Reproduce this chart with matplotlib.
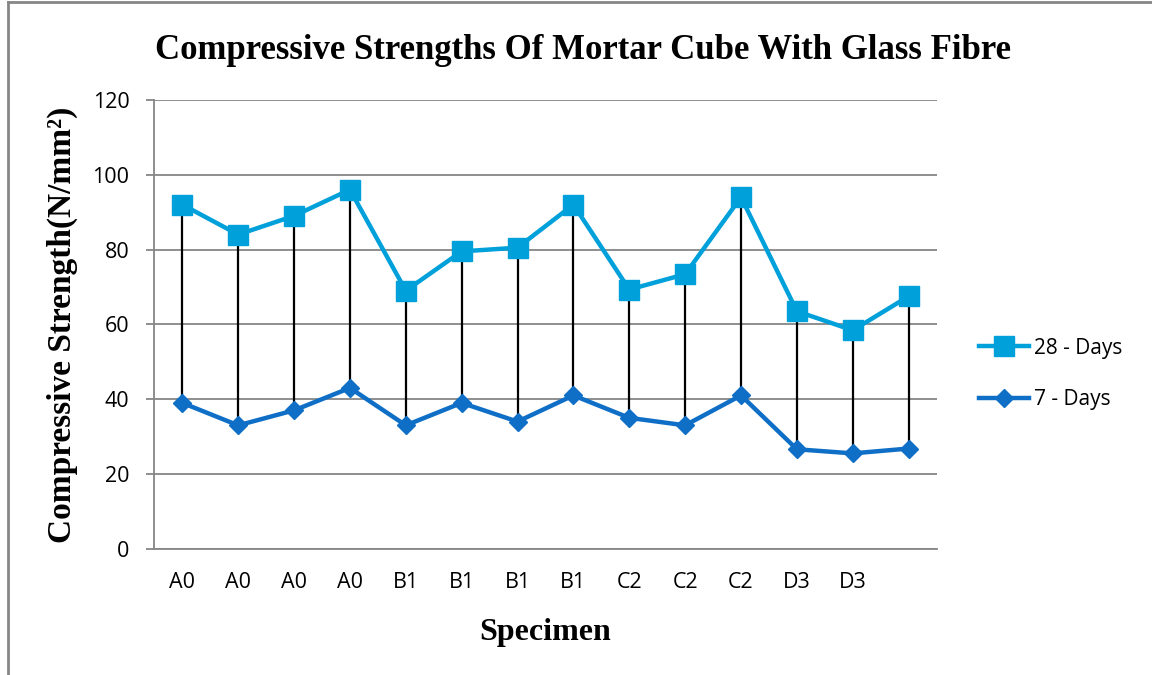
import matplotlib
matplotlib.use('Agg')
import matplotlib.pyplot as plt
from matplotlib.lines import Line2D

# data
specimens = ['A0', 'A0', 'A0', 'A0', 'B1', 'B1', 'B1', 'B1',
             'C2', 'C2', 'C2', 'D3', 'D3', '']
days_28 = [92, 84, 89, 96, 69, 79.5, 80.5, 92, 69.3, 73.4, 94, 63.5, 58.4, 67.5]
days_7 = [39, 33, 37, 43, 33, 39, 34, 41, 35, 33, 41, 26.6, 25.5, 26.8]
y_ticks = [0, 20, 40, 60, 80, 100, 120]

grid_col = '#868686'
c28 = '#00A0DA'
c7 = '#0F6FC6'
tick_font = ['Open Sans', 'DejaVu Sans']
serif_font = ['Liberation Serif', 'DejaVu Serif']

fig = plt.figure(figsize=(11.52, 6.75), dpi=100)
ax = fig.add_axes([0.134, 0.187, 0.679, 0.665])

x = list(range(len(specimens)))

# high-low lines between the two series
ax.vlines(x, days_7, days_28, color='black', linewidth=1.6, zorder=2)

ax.plot(x, days_28, color=c28, linewidth=3.2, marker='s', markersize=15,
        label='28 - Days', zorder=3)
ax.plot(x, days_7, color=c7, linewidth=3.2, marker='D', markersize=9,
        label='7 - Days', zorder=3)

ax.set_xlim(-0.5, len(specimens) - 0.5)
ax.set_ylim(0, 120)
ax.set_yticks(y_ticks)
ax.set_xticks(x)
ax.set_xticklabels(specimens, family=tick_font, fontsize=15.5)
ax.set_yticklabels([str(v) for v in y_ticks], family=tick_font, fontsize=15.5)
ax.grid(axis='y', color=grid_col, linewidth=1.3)
ax.set_axisbelow(True)

for s in ['top', 'right']:
    ax.spines[s].set_visible(False)
ax.spines['left'].set_color(grid_col)
ax.spines['left'].set_linewidth(1.3)
ax.spines['bottom'].set_color(grid_col)
ax.spines['bottom'].set_linewidth(1.3)
ax.tick_params(axis='y', length=6, width=1.3, color=grid_col, pad=12)
ax.tick_params(axis='x', length=0, pad=17)

ax.set_xlabel('Specimen', family=serif_font, fontweight='bold', fontsize=23, labelpad=18)
ax.set_ylabel('Compressive Strength(N/mm²)', family=serif_font,
              fontweight='bold', fontsize=24, labelpad=10)
fig.text(0.506, 0.925, 'Compressive Strengths Of Mortar Cube With Glass Fibre',
         ha='center', va='center', family=serif_font, fontweight='bold', fontsize=25)

ax.legend(loc='center left', bbox_to_anchor=(1.03, 0.39), frameon=False,
          prop={'family': tick_font, 'size': 15}, handlelength=2.4,
          handletextpad=0.25, labelspacing=1.45)

# chart border, only top and left are visible in the crop
fig.add_artist(Line2D([0.007, 1.0], [0.997, 0.997], color=grid_col, linewidth=2,
                      transform=fig.transFigure))
fig.add_artist(Line2D([0.007, 0.007], [0.0, 0.997], color=grid_col, linewidth=2,
                      transform=fig.transFigure))

fig.savefig('out.png', dpi=100)
